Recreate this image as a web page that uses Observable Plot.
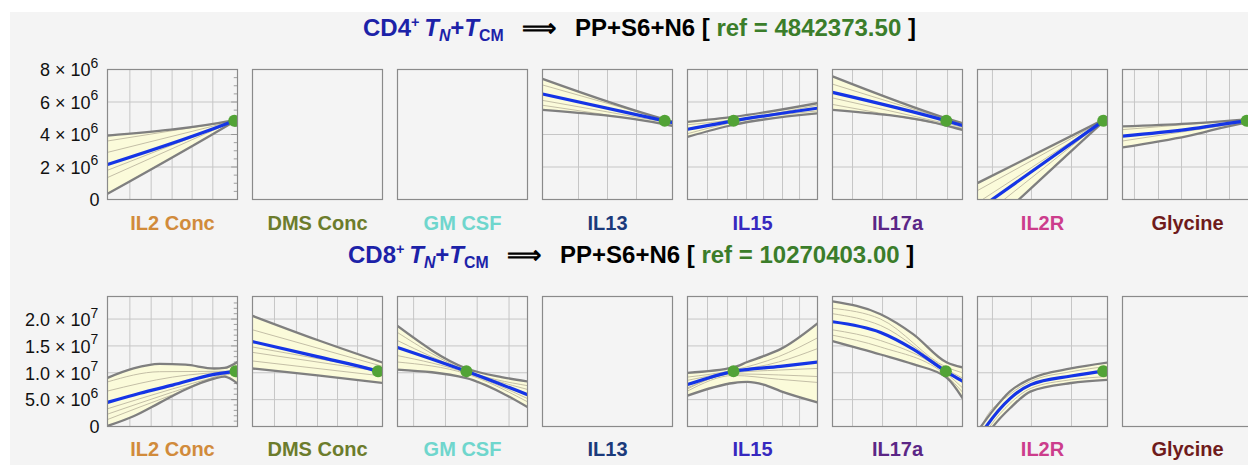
<!DOCTYPE html>
<html><head><meta charset="utf-8">
<script src="https://cdn.jsdelivr.net/npm/d3@7"></script>
<script src="https://cdn.jsdelivr.net/npm/@observablehq/plot@0.6"></script>
<style>
html,body{margin:0;padding:0;background:#fff;}
#root{position:relative;width:1248px;height:465px;overflow:hidden;background:#fff;font-family:"Liberation Sans",Arial,sans-serif;}
#bg{position:absolute;left:10px;top:12px;right:0;bottom:0;background:#f4f4f4;}
.title{position:absolute;font-weight:bold;font-size:24px;white-space:nowrap;color:#000;line-height:30px;}
.title .cd{color:#1c22a8;}
.title .ref{color:#3b7d2a;}
.title sup{font-size:0.6em;vertical-align:0.6em;line-height:0;}
.title sub{font-size:0.66em;vertical-align:-0.3em;line-height:0;}
.row{position:absolute;left:0;width:1252px;}
</style></head>
<body><div id="root"><div id="bg"></div>
<div class="title" id="t1" style="left:363px;top:13px"></div>
<div class="row" id="r1" style="top:50px"></div>
<div class="title" id="t2" style="left:348px;top:240px"></div>
<div class="row" id="r2" style="top:270px"></div>
</div>
<script>
// ---------- categories ----------
const cols = ["IL2 Conc", "DMS Conc", "GM CSF", "IL13", "IL15", "IL17a", "IL2R", "Glycine"];
const colColors = ["#d18b3b", "#6c7c2c", "#6fd6cd", "#1b3a7b", "#3628bf", "#5b2686", "#cc3d8c", "#6f1b1b"];
// vertical grid positions (normalised x of each variable)
const xGrid = [
  [0.172, 0.336, 0.497, 0.651, 0.81],
  [0.169, 0.338, 0.5, 0.654, 0.808],
  [0.124, 0.369, 0.613, 0.858],
  [0.277, 0.5, 0.723],
  [0.154, 0.308, 0.454, 0.585, 0.731, 0.862],
  [0.154, 0.385, 0.646, 0.885],
  [0.115, 0.415, 0.723],
  [0.092, 0.277, 0.454, 0.646, 0.823]
];

// ---------- CD4+ row ----------
const cd4Ref = 4842373.50;
const cd4YTicks = [0, 2e6, 4e6, 6e6, 8e6];
const cd4YBase = ["0", "2 × 10", "4 × 10", "6 × 10", "8 × 10"];
const cd4YExp = ["", "6", "6", "6", "6"];
const cd4YMax = 8.0e6;
// band rows: [x, lower, upper]
const cd4Band = {
  "IL2 Conc": [[0, 0.35e6, 3.93e6], [0.975, 4.8e6, 4.88e6], [1, 4.92e6, 4.92e6]],
  "IL13": [[0, 5.52e6, 7.42e6], [0.94, 4.62e6, 4.93e6], [1, 4.52e6, 4.8e6]],
  "IL15": [[0, 3.85e6, 4.78e6], [0.354, 4.6e6, 5.08e6], [1, 5.3e6, 5.93e6]],
  "IL17a": [[0, 5.52e6, 7.58e6], [0.875, 4.55e6, 5.0e6], [1, 4.28e6, 4.69e6]],
  "IL2R": [[0, -2.37e6, 1.01e6], [0.967, 4.78e6, 4.9e6], [1, 5.02e6, 5.03e6]],
  "Glycine": [[0, 3.2e6, 4.5e6], [0.5, 3.9e6, 4.67e6], [0.955, 4.72e6, 4.93e6], [1, 4.76e6, 4.96e6]]
};
const cd4Fit = {
  "IL2 Conc": [[0, 2.15e6], [0.975, 4.84e6], [1, 4.92e6]],
  "IL13": [[0, 6.49e6], [0.94, 4.84e6], [1, 4.73e6]],
  "IL15": [[0, 4.32e6], [0.354, 4.84e6], [1, 5.62e6]],
  "IL17a": [[0, 6.59e6], [0.875, 4.84e6], [1, 4.55e6]],
  "IL2R": [[0, -0.64e6], [0.967, 4.84e6], [1, 5.03e6]],
  "Glycine": [[0, 3.9e6], [0.5, 4.32e6], [0.955, 4.84e6], [1, 4.88e6]]
};
const cd4Inner = {
  "IL2 Conc": [[[0, 3.6e6], [0.975, 4.84e6]], [[0, 2.9e6], [0.975, 4.84e6]], [[0, 1.8e6], [0.975, 4.84e6]], [[0, 1.35e6], [0.975, 4.84e6]]],
  "IL13": [[[0, 7.05e6], [1, 4.78e6]], [[0, 6.1e6], [1, 4.68e6]], [[0, 5.8e6], [1, 4.6e6]]],
  "IL15": [[[0, 4.6e6], [0.354, 4.9e6], [1, 5.8e6]], [[0, 4.05e6], [0.354, 4.75e6], [1, 5.45e6]]],
  "IL17a": [[[0, 7.1e6], [1, 4.62e6]], [[0, 6.25e6], [1, 4.45e6]], [[0, 5.85e6], [1, 4.38e6]]],
  "IL2R": [[[0, 0.55e6], [0.967, 4.84e6]], [[0, -0.2e6], [0.967, 4.84e6]], [[0, -1.3e6], [0.967, 4.84e6]]],
  "Glycine": [[[0, 4.3e6], [1, 4.94e6]], [[0, 3.6e6], [1, 4.82e6]]]
};
const cd4RefX = {"IL2 Conc": 0.975, "IL13": 0.94, "IL15": 0.354, "IL17a": 0.875, "IL2R": 0.967, "Glycine": 0.955};

// ---------- CD8+ row ----------
const cd8Ref = 10270403.00;
const cd8YTicks = [0, 5e6, 1e7, 1.5e7, 2e7];
const cd8YBase = ["0", "5.0 × 10", "1.0 × 10", "1.5 × 10", "2.0 × 10"];
const cd8YExp = ["", "6", "7", "7", "7"];
const cd8YMax = 2.42e7;
const cd8Band = {
  "IL2 Conc": [[0, 0.1e6, 9.05e6], [0.2, 1.9e6, 1.08e7], [0.4, 4.4e6, 1.165e7], [0.6, 6.9e6, 1.15e7], [0.82, 8.9e6, 1.08e7], [0.9, 9.3e6, 1.09e7], [1, 8.0e6, 1.2e7]],
  "DMS Conc": [[0, 1.08e7, 2.06e7], [0.5, 9.5e6, 1.61e7], [1, 8.1e6, 1.19e7]],
  "GM CSF": [[0, 1.06e7, 1.87e7], [0.53, 9.0e6, 1.08e7], [0.8, 6.3e6, 9.2e6], [1, 3.6e6, 8.4e6]],
  "IL15": [[0, 5.74e6, 1.0e7], [0.354, 8.1e6, 1.1e7], [0.46, 8.3e6, 1.2e7], [0.585, 7.8e6, 1.31e7], [0.715, 6.6e6, 1.44e7], [1, 4.5e6, 1.92e7]],
  "IL17a": [[0, 1.59e7, 2.33e7], [0.37, 1.34e7, 2.09e7], [0.62, 1.16e7, 1.72e7], [0.88, 9.05e6, 1.19e7], [1, 5.3e6, 1.1e7]],
  "IL2R": [[0, -4e6, -0.9e6], [0.06, -2e6, 1.1e6], [0.123, 0.1e6, 3.1e6], [0.25, 3.4e6, 6.55e6], [0.41, 6.55e6, 8.9e6], [0.72, 8.1e6, 1.08e7], [1, 8.7e6, 1.19e7]]
};
const cd8Fit = {
  "IL2 Conc": [[0, 4.49e6], [0.25, 6.2e6], [0.5, 7.7e6], [0.82, 9.7e6], [0.985, 1.027e7], [1, 1.03e7]],
  "DMS Conc": [[0, 1.58e7], [0.5, 1.3e7], [0.965, 1.027e7], [1, 1.0e7]],
  "GM CSF": [[0, 1.47e7], [0.53, 1.027e7], [1, 5.93e6]],
  "IL15": [[0, 7.8e6], [0.354, 1.027e7], [0.715, 1.12e7], [1, 1.2e7]],
  "IL17a": [[0, 1.95e7], [0.37, 1.75e7], [0.62, 1.44e7], [0.872, 1.027e7], [1, 8.43e6]],
  "IL2R": [[0, -2.5e6], [0.067, 0], [0.25, 5.2e6], [0.41, 7.8e6], [0.72, 9.4e6], [0.967, 1.027e7], [1, 1.035e7]]
};
const cd8Inner = {
  "IL2 Conc": [
    [[0, 8.3e6], [0.4, 1.02e7], [0.985, 1.03e7], [1, 1.1e7]],
    [[0, 6.6e6], [0.5, 9.2e6], [0.985, 1.03e7]],
    [[0, 3.3e6], [0.5, 7.0e6], [0.985, 1.02e7]],
    [[0, 2.3e6], [0.5, 6.4e6], [0.985, 1.01e7]],
    [[0, 1.3e6], [0.5, 5.9e6], [0.985, 1.0e7], [1, 9.2e6]]
  ],
  "DMS Conc": [[[0, 1.8e7], [1, 1.12e7]], [[0, 1.48e7], [1, 1.05e7]], [[0, 1.38e7], [1, 1.02e7]], [[0, 1.22e7], [1, 9.4e6]]],
  "GM CSF": [
    [[0, 1.75e7], [0.53, 1.04e7], [1, 7.6e6]],
    [[0, 1.6e7], [0.53, 1.03e7], [1, 6.9e6]],
    [[0, 1.32e7], [0.53, 1.0e7], [1, 5.2e6]],
    [[0, 1.2e7], [0.53, 9.8e6], [1, 4.6e6]]
  ],
  "IL15": [
    [[0, 9.2e6], [0.354, 1.05e7], [0.7, 1.3e7], [1, 1.65e7]],
    [[0, 8.6e6], [0.354, 1.03e7], [0.7, 1.2e7], [1, 1.45e7]],
    [[0, 7.0e6], [0.354, 9.8e6], [0.7, 9.6e6], [1, 9.3e6]],
    [[0, 7.2e6], [0.354, 1.0e7], [0.7, 1.05e7], [1, 1.08e7]],
    [[0, 6.6e6], [0.354, 9.5e6], [0.7, 8.8e6], [1, 8.2e6]]
  ],
  "IL17a": [
    [[0, 2.2e7], [0.37, 2.0e7], [0.88, 1.1e7], [1, 1.0e7]],
    [[0, 2.1e7], [0.37, 1.88e7], [0.88, 1.06e7], [1, 9.0e6]],
    [[0, 1.8e7], [0.37, 1.6e7], [0.88, 9.8e6], [1, 7.2e6]],
    [[0, 1.7e7], [0.37, 1.48e7], [0.88, 9.4e6], [1, 6.4e6]]
  ],
  "IL2R": [
    [[0, -2e6], [0.03, 0], [0.25, 6.0e6], [0.41, 8.4e6], [0.72, 1.02e7], [1, 1.12e7]],
    [[0.04, -2e6], [0.095, 0], [0.25, 4.3e6], [0.41, 7.1e6], [0.72, 8.7e6], [1, 9.3e6]]
  ]
};
const cd8RefX = {"IL2 Conc": 0.985, "DMS Conc": 0.965, "GM CSF": 0.53, "IL15": 0.354, "IL17a": 0.872, "IL2R": 0.967};

// ---------- titles ----------
function titleHTML(cell, ref) {
  return `<span class="cd">${cell}<sup>+</sup>&thinsp;<i>T</i><sub><i>N</i></sub>+<i>T</i><sub>CM</sub></span>&ensp;&nbsp;⟹&ensp;&nbsp;PP+S6+N6 [ <span class="ref">ref = ${ref.toFixed(2)}</span> ]`;
}
document.getElementById("t1").innerHTML = titleHTML("CD4", cd4Ref);
document.getElementById("t2").innerHTML = titleHTML("CD8", cd8Ref);

// ---------- drawing ----------
function drawRow(el, o) {
  const bandData = [], fitData = [], innerData = [], refData = [], vgrid = [], hgrid = [];
  cols.forEach((v, ci) => {
    if (!o.band[v]) return;
    o.band[v].forEach(([x, lo, hi]) => bandData.push({v, x, lo, hi}));
    o.fit[v].forEach(([x, y]) => fitData.push({v, x, y}));
    (o.inner[v] || []).forEach((ln, li) => ln.forEach(([x, y]) => innerData.push({v, id: v + li, x, y})));
    refData.push({v, x: o.refX[v], y: o.ref});
    xGrid[ci].forEach(x => vgrid.push({v, x}));
    o.yTicks.forEach(t => { if (t > 0 && t < o.yMax * 0.99) hgrid.push({v, y: t}); });
  });
  const yLab = o.yTicks.map((t, i) => ({y: t, base: o.yBase[i], exp: o.yExp[i]}));
  const minor = o.minor.map(t => ({y: t, major: o.yTicks.includes(t)}));
  const first = () => cols[0];
  const curve = "monotone-x";
  const chart = Plot.plot({
    width: 1252, height: o.height,
    marginLeft: 107, marginRight: 0, marginTop: o.marginTop, marginBottom: o.marginBottom,
    style: {background: "transparent", fontFamily: "'Liberation Sans', Arial, sans-serif", maxWidth: "none", overflow: "visible"},
    fx: {domain: cols, paddingInner: 15 / 145, paddingOuter: 0, align: 0, round: false, axis: null, label: null},
    x: {domain: [0, 1], axis: null},
    y: {domain: [0, o.yMax], axis: null},
    color: {type: "identity"},
    marks: [
      Plot.ruleX(vgrid, {fx: "v", x: "x", stroke: "#c6c6c6", strokeWidth: 1}),
      Plot.ruleY(hgrid, {fx: "v", y: "y", stroke: "#c6c6c6", strokeWidth: 1}),
      Plot.ruleY(minor.filter(d => !d.major), {fx: first, y: "y", x1: 0.975, x2: 1, stroke: "#8a8a8a", strokeWidth: 0.8}),
      Plot.ruleY(minor.filter(d => d.major), {fx: first, y: "y", x1: 0.955, x2: 1, stroke: "#8a8a8a", strokeWidth: 0.8}),
      Plot.areaY(bandData, {fx: "v", x: "x", y1: "lo", y2: "hi", z: "v", fill: "#fbfbda", curve, clip: true}),
      Plot.line(innerData, {fx: "v", x: "x", y: "y", z: "id", stroke: "#bdb8a0", strokeWidth: 0.9, curve, clip: true}),
      Plot.line(bandData, {fx: "v", x: "x", y: "lo", z: "v", stroke: "#7f7f7f", strokeWidth: 2.3, curve, clip: true}),
      Plot.line(bandData, {fx: "v", x: "x", y: "hi", z: "v", stroke: "#7f7f7f", strokeWidth: 2.3, curve, clip: true}),
      Plot.line(fitData, {fx: "v", x: "x", y: "y", z: "v", stroke: "#1535e6", strokeWidth: 3.2, curve, clip: true}),
      Plot.dot(refData, {fx: "v", x: "x", y: "y", r: 6, fill: "#52a336", stroke: "none", clip: true}),
      Plot.frame({stroke: "#8a8a8a", strokeWidth: 1.2}),
      Plot.text(yLab.filter(d => d.exp), {fx: first, y: "y", text: "base", frameAnchor: "left", textAnchor: "end", lineAnchor: "middle", dx: -17, dy: 1, fontSize: 18, fill: "#111"}),
      Plot.text(yLab.filter(d => !d.exp), {fx: first, y: "y", text: "base", frameAnchor: "left", textAnchor: "end", lineAnchor: "middle", dx: -8, dy: 1, fontSize: 18, fill: "#111"}),
      Plot.text(yLab.filter(d => d.exp), {fx: first, y: "y", text: "exp", frameAnchor: "left", textAnchor: "start", lineAnchor: "middle", dx: -17, dy: -6, fontSize: 14, fill: "#111"}),
      Plot.text(cols, {fx: d => d, text: d => d, fill: (d, i) => colColors[i], frameAnchor: "bottom", lineAnchor: "middle", dy: o.labelDy, fontSize: 20, fontWeight: "bold"})
    ]
  });
  el.appendChild(chart);
}

drawRow(document.getElementById("r1"), {
  band: cd4Band, fit: cd4Fit, inner: cd4Inner, refX: cd4RefX, ref: cd4Ref,
  yTicks: cd4YTicks, yBase: cd4YBase, yExp: cd4YExp, yMax: cd4YMax,
  minor: d3.range(0.5e6, 8e6, 0.5e6),
  height: 190, marginTop: 19, marginBottom: 41, labelDy: 24
});
drawRow(document.getElementById("r2"), {
  band: cd8Band, fit: cd8Fit, inner: cd8Inner, refX: cd8RefX, ref: cd8Ref,
  yTicks: cd8YTicks, yBase: cd8YBase, yExp: cd8YExp, yMax: cd8YMax,
  minor: d3.range(1e6, 2.4e7, 1e6),
  height: 195, marginTop: 26, marginBottom: 39, labelDy: 23
});
</script>
</body></html>
